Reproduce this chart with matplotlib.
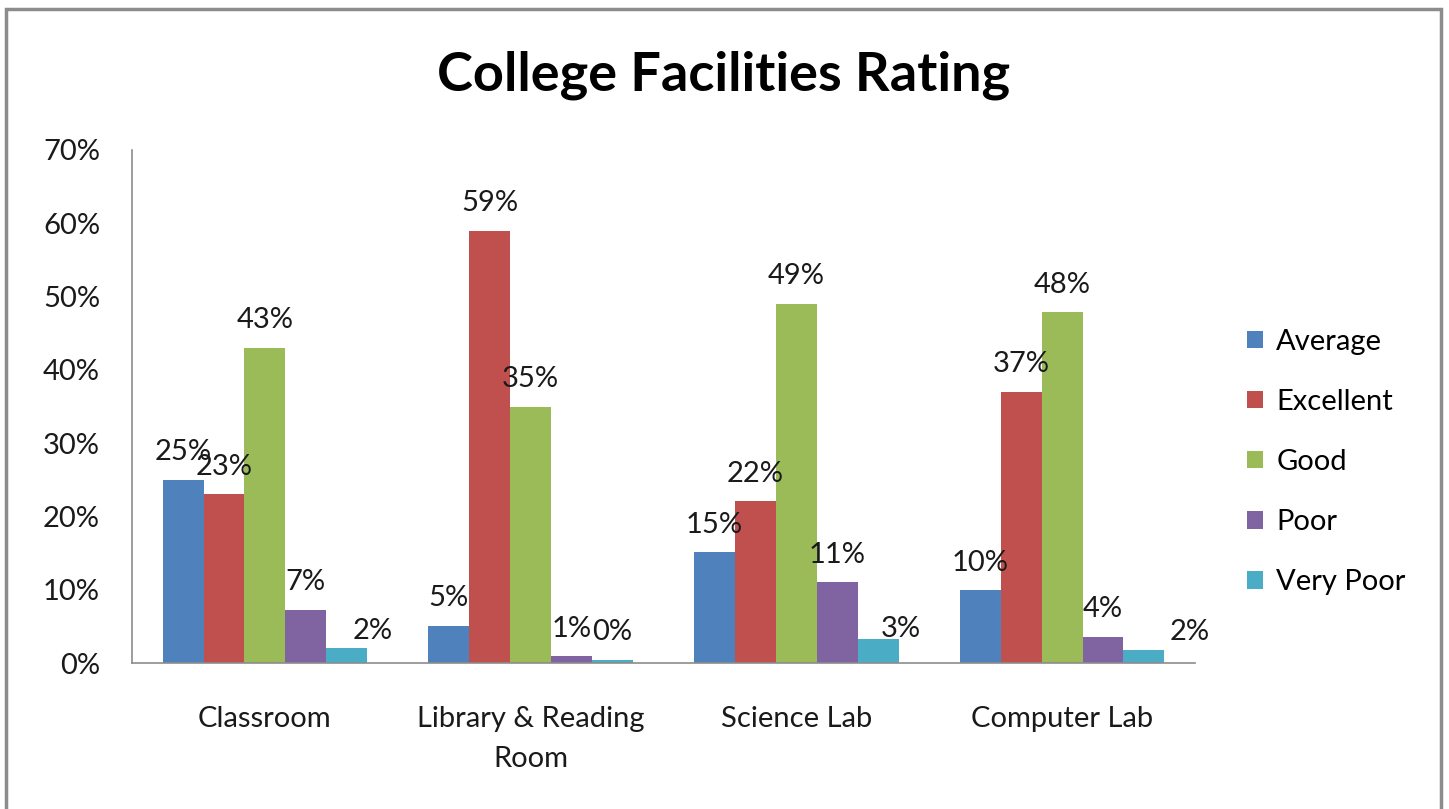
import matplotlib
matplotlib.use("Agg")
import matplotlib.pyplot as plt
import numpy as np
from matplotlib.patches import Rectangle

plt.rcParams['font.family'] = ['Lato', 'DejaVu Sans']

categories = ["Classroom", "Library & Reading\nRoom", "Science Lab", "Computer Lab"]
series_names = ["Average", "Excellent", "Good", "Poor", "Very Poor"]
average = [25.0, 5.1, 15.1, 9.9]
excellent = [23.0, 59.0, 22.1, 37.0]
good = [43.0, 35.0, 49.0, 47.9]
poor = [7.3, 0.9, 11.0, 3.6]
very_poor = [2.0, 0.45, 3.3, 1.8]
series = [average, excellent, good, poor, very_poor]
colors = ["#4F81BD", "#C0504D", "#9BBB59", "#8064A2", "#4BACC6"]
yticks = [0, 10, 20, 30, 40, 50, 60, 70]

# label nudges (points) for the "Very Poor" labels, as placed in the original
vp_label_dx = [19, 0, 16, 33]
vp_label_dy = [-7, 0, -13, -7]

W, H = 1449, 809
fig = plt.figure(figsize=(W / 100, H / 100), dpi=100)
fig.patch.set_facecolor("white")

# outer frame
fig.patches.append(Rectangle((6 / W, -0.05), (1441 - 6) / W, 1.05 - 9 / H,
                             transform=fig.transFigure, fill=False,
                             edgecolor="#8c8c8c", linewidth=2.5))

ax = fig.add_axes([132 / W, 1 - 663 / H, (1195 - 132) / W, (663 - 150) / H])

FS = 21
n = len(series)
bw = 1.0 / 6.5
x = np.arange(len(categories))
for i, (name, vals, c) in enumerate(zip(series_names, series, colors)):
    pos = x + (i - (n - 1) / 2) * bw
    ax.bar(pos, vals, width=bw, color=c, label=name, edgecolor="none")
    for j, (xp, v) in enumerate(zip(pos, vals)):
        dx, dy = 0, 0
        if name == "Very Poor":
            dx, dy = vp_label_dx[j], vp_label_dy[j]
        ax.annotate(f"{v:.0f}%", (xp, v), xytext=(dx, 14 + dy), textcoords="offset points",
                    ha="center", va="baseline", fontsize=FS, color="#1a1a1a")

ax.set_xlim(-0.5, len(categories) - 0.5)
ax.set_ylim(0, 70)
ax.set_yticks(yticks)
ax.set_yticklabels([f"{t}%" for t in yticks])
ax.set_xticks(x)
ax.set_xticklabels(categories, linespacing=1.65)
ax.tick_params(axis="both", length=0, labelsize=FS, colors="#1a1a1a")
ax.tick_params(axis="y", pad=23)
ax.tick_params(axis="x", pad=31)
for s in ["top", "right"]:
    ax.spines[s].set_visible(False)
for s in ["left", "bottom"]:
    ax.spines[s].set_color("#8c8c8c")
    ax.spines[s].set_linewidth(1.2)

fig.text(724 / W, 1 - 75 / H, "College Facilities Rating", ha="center", va="center",
         fontsize=39, fontweight="bold", color="black")

leg = ax.legend(loc="center left", bbox_to_anchor=(1247 / W, 1 - 462 / H),
                bbox_transform=fig.transFigure, frameon=False, fontsize=FS,
                handlelength=0.55, handleheight=0.55, handletextpad=0.45,
                labelspacing=1.17, borderaxespad=0, borderpad=0)

fig.savefig("out.png", dpi=100)
